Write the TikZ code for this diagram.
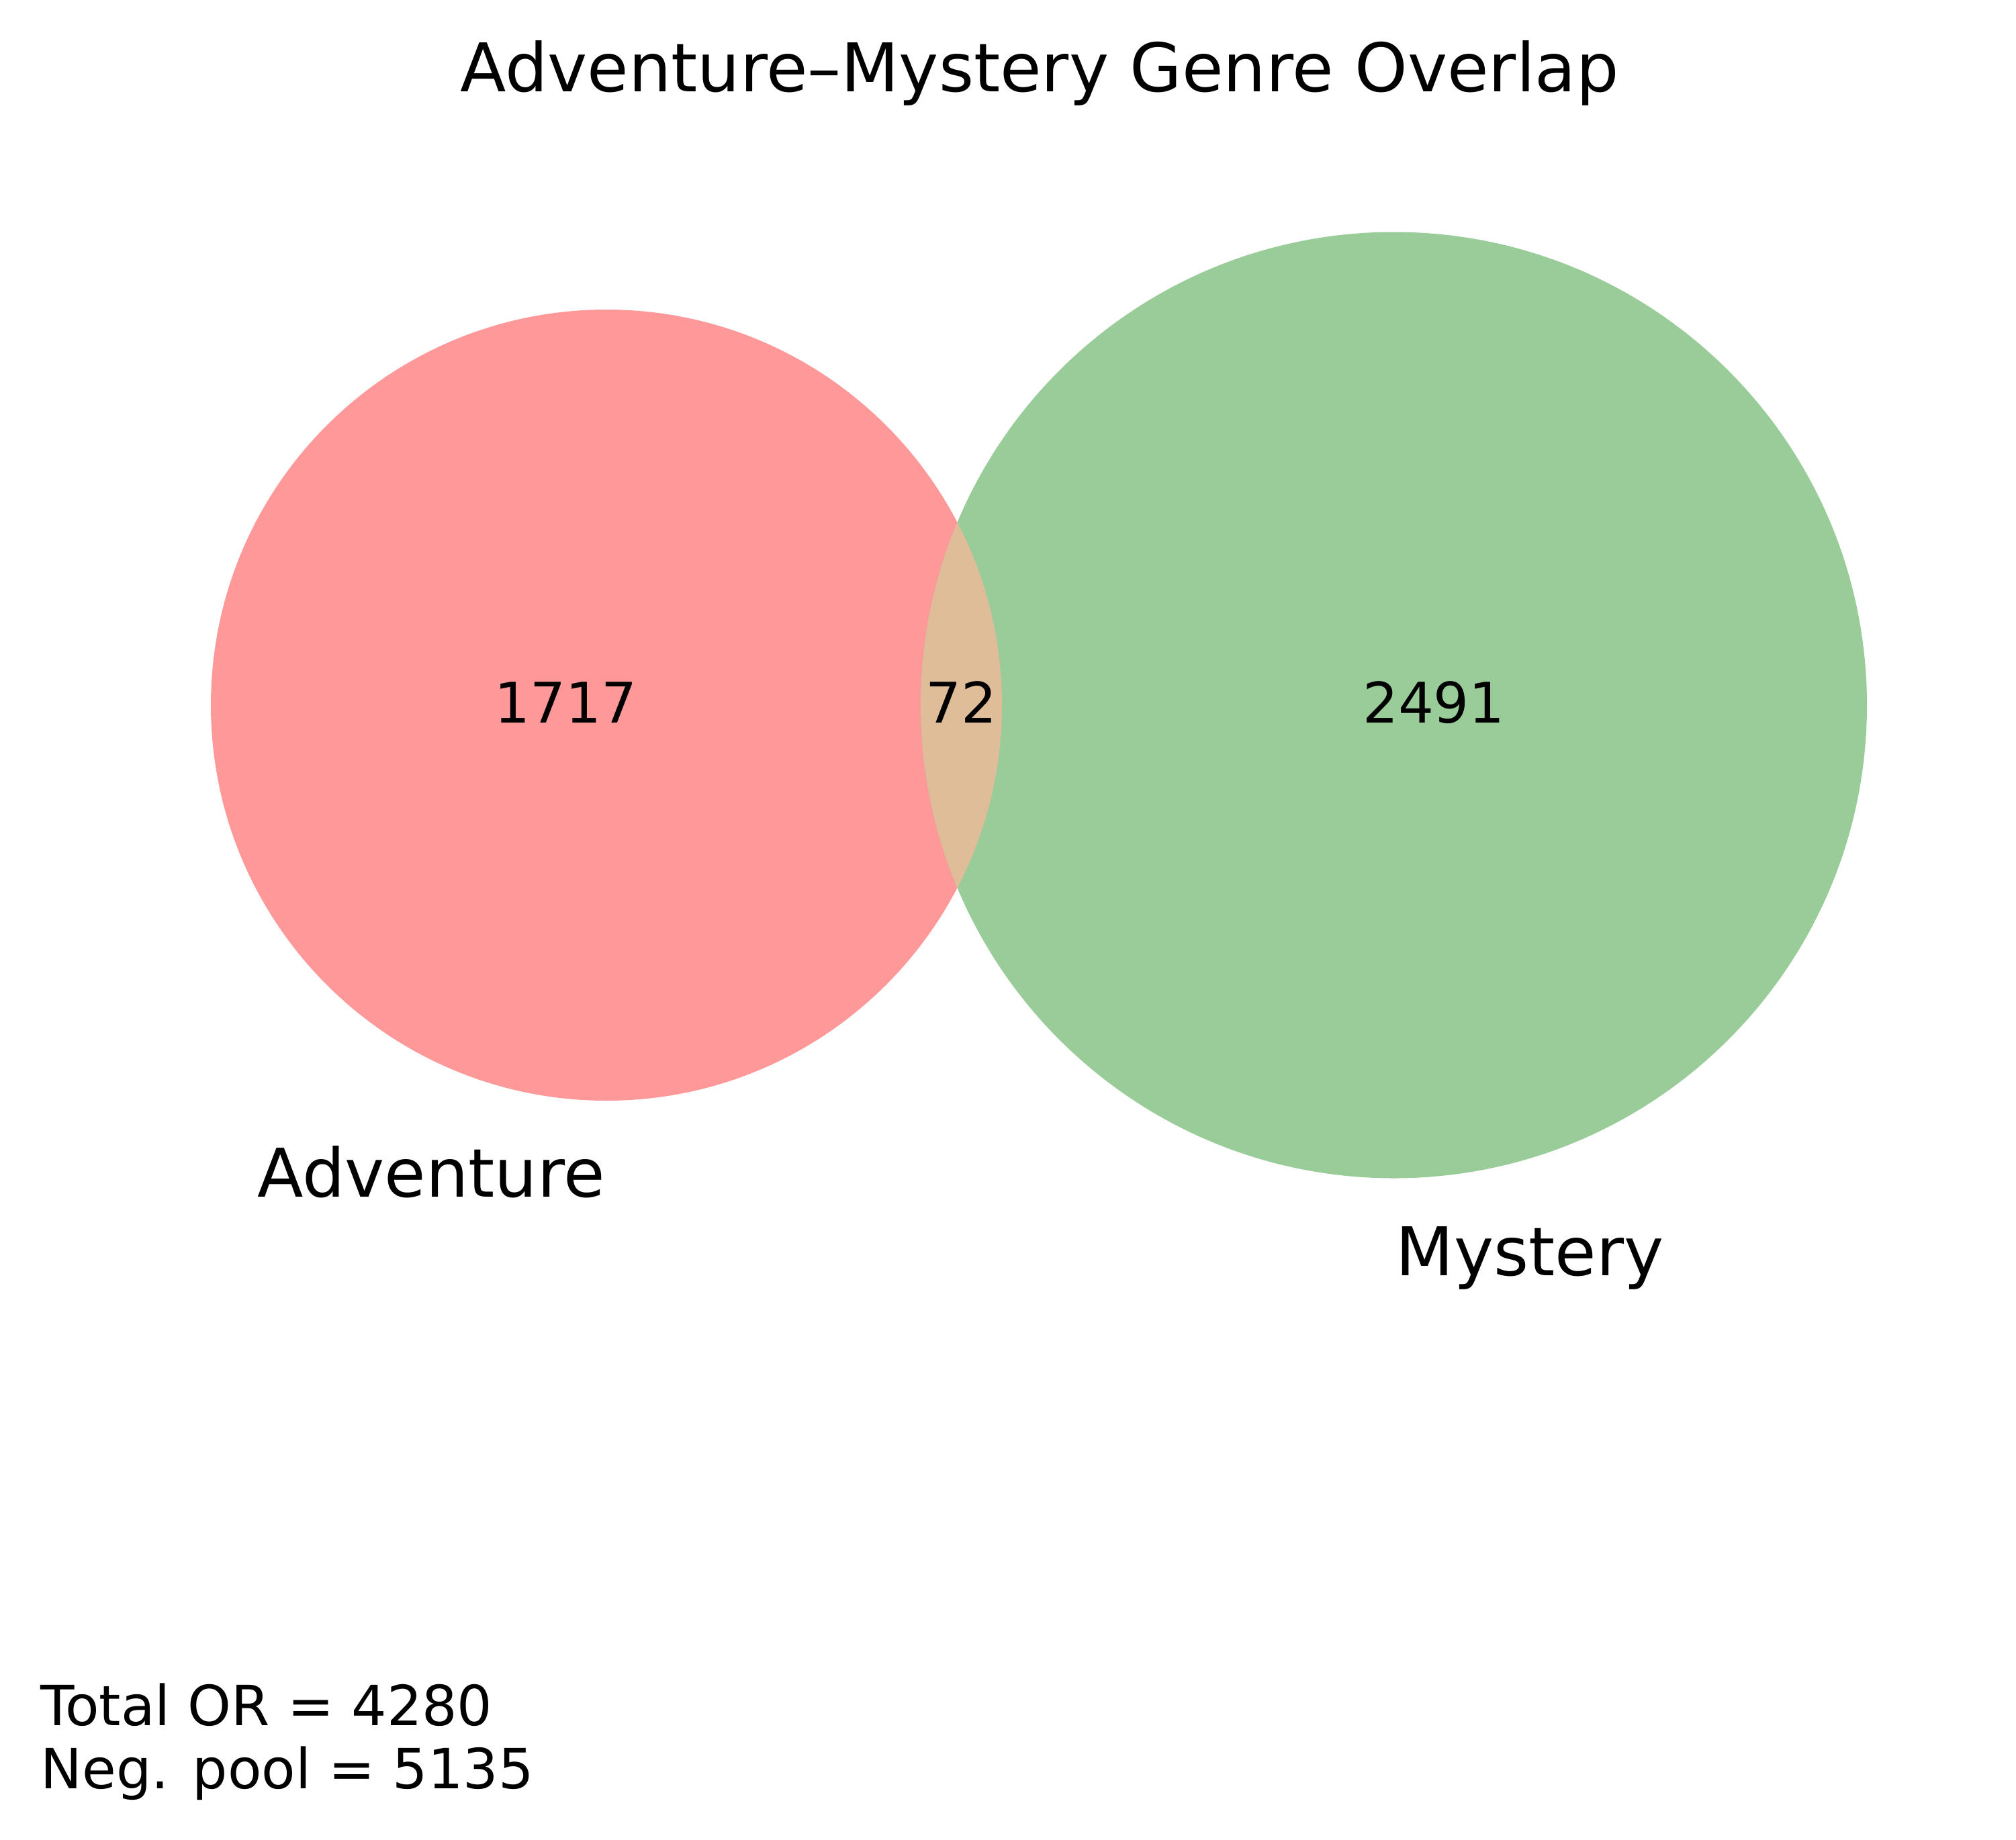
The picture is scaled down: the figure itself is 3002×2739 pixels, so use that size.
\documentclass[tikz,border=0pt]{standalone}
\usepackage{fontspec}
\setmainfont{DejaVu Sans}
\definecolor{advred}{HTML}{FF9999}
\definecolor{mysgreen}{HTML}{99CC99}
\definecolor{lens}{HTML}{E0BD99}
\begin{document}
\begin{tikzpicture}[x=0.24pt,y=-0.24pt,
  titletext/.style={inner sep=0pt,anchor=base,font=\fontsize{24}{28}\selectfont},
  settext/.style={inner sep=0pt,anchor=base,font=\fontsize{24}{28}\selectfont},
  numtext/.style={inner sep=0pt,anchor=base,font=\fontsize{20}{24}\selectfont},
  notetext/.style={inner sep=0pt,anchor=base west,font=\fontsize{19.8}{24}\selectfont}]
\useasboundingbox (0,0) rectangle (3002,2739);
\coordinate (cA) at (903,1050);
\coordinate (cM) at (2075.5,1050);
\fill[advred] (cA) circle[radius=141.36pt];
\fill[mysgreen] (cM) circle[radius=169.08pt];
\begin{scope}
  \clip (cA) circle[radius=141.36pt];
  \fill[lens] (cM) circle[radius=169.08pt];
\end{scope}
\node[titletext] (title) at (1548,136) {Adventure–Mystery Genre Overlap};
\node[numtext] (nA) at (843,1076) {1717};
\node[numtext] (nAM) at (1431,1076) {72};
\node[numtext] (nM) at (2135,1076) {2491};
\node[settext] (lA) at (642,1782) {Adventure};
\node[settext] (lM) at (2278,1899) {Mystery};
\node[notetext] (tot) at (60,2569) {Total OR = 4280};
\node[notetext] (neg) at (60,2663) {Neg. pool = 5135};
\end{tikzpicture}
\end{document}
